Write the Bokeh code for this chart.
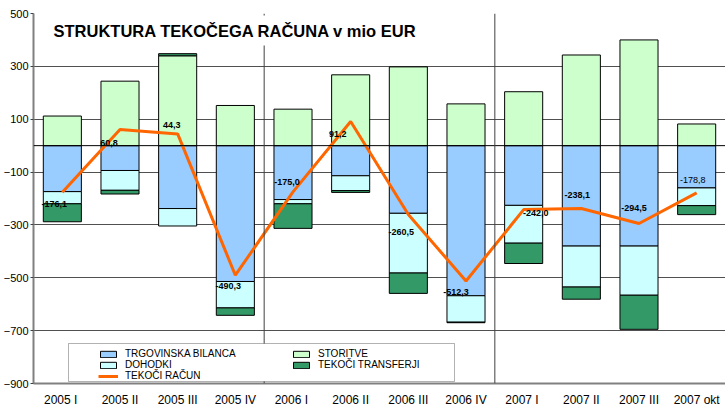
from bokeh.plotting import figure
from bokeh.models import (ColumnDataSource, Range1d, FixedTicker, Span, Legend,
                          LegendItem, Label, BoxAnnotation)
from bokeh.core.properties import value
from bokeh.embed import file_html
from bokeh.resources import INLINE

# ---------------- data ----------------
categories = ["2005  I", "2005 II", "2005 III", "2005 IV",
              "2006  I", "2006 II", "2006 III", "2006 IV",
              "2007  I", "2007 II", "2007 III", "2007 okt"]
trgovinska = [-174, -94, -238, -514, -204, -114, -256, -568, -226, -380, -380, -160]
storitve = [112, 244, 340, 152, 138, 268, 298, 158, 204, 343, 400, 82]
dohodki = [-46, -75, -66, -100, -16, -56, -226, -100, -143, -155, -186, -67]
transferji = [-68, -14, 8, -28, -93, -7, -77, -2, -77, -46, -129, -34]
tekoci = [-176.1, 60.8, 44.3, -490.3, -175.0, 91.2, -260.5, -512.3, -242.0, -238.1, -294.5, -178.8]
y_ticks = [-900, -700, -500, -300, -100, 100, 300, 500]

# ---------------- styles ----------------
FONT = "Liberation Sans"
label_dx = [-8, -11, -6, -7, -6, -13, -7, -10, 12, -4, -5, -4]
label_dy = [12, 13, -9, 11, -10, 12, 18, 11, 3, -14, -15, -13]
label_style = ["bold"] * 11 + ["normal"]

n = len(categories)
xs = list(range(n))

p = figure(width=725, height=409, x_range=Range1d(-0.5, n - 0.5),
           y_range=Range1d(y_ticks[0], y_ticks[-1]),
           output_backend="svg", toolbar_location=None,
           min_border_left=0, min_border_right=0, min_border_top=13, min_border_bottom=0)
p.outline_line_color = None
p.background_fill_color = "white"
p.border_fill_color = "white"

# axes
p.yaxis.ticker = FixedTicker(ticks=y_ticks)
p.yaxis.major_label_text_font = FONT
p.yaxis.major_label_text_font_size = "11px"
p.yaxis.major_label_text_color = "black"
p.yaxis.axis_line_color = "#808080"
p.yaxis.axis_line_width = 2
p.yaxis.major_tick_out = 3
p.yaxis.major_tick_in = 0
p.yaxis.major_tick_line_color = "#404040"
p.yaxis.minor_tick_line_color = None
p.yaxis.major_label_standoff = 2

p.xaxis.ticker = FixedTicker(ticks=xs)
p.xaxis.major_label_overrides = {i: c for i, c in enumerate(categories)}
p.xaxis.major_label_text_font = FONT
p.xaxis.major_label_text_font_size = "12px"
p.xaxis.major_label_text_color = "black"
p.xaxis.axis_line_color = "#808080"
p.xaxis.axis_line_width = 2
p.xaxis.major_tick_line_color = None
p.xaxis.minor_tick_line_color = None
p.xaxis.major_label_standoff = 3

p.xgrid.grid_line_color = None
p.ygrid.ticker = FixedTicker(ticks=y_ticks)
p.ygrid.grid_line_color = "#505050"
p.ygrid.grid_line_width = 1

# stacked bars (positives up, negatives down)
series = [("TRGOVINSKA BILANCA", trgovinska, "#99CCFF"),
          ("STORITVE", storitve, "#CCFFCC"),
          ("DOHODKI", dohodki, "#CCFFFF"),
          ("TEKOČI TRANSFERJI", transferji, "#339966")]
pos = [0.0] * n
neg = [0.0] * n
rend = {}
for name, vals, color in series:
    bottoms, tops = [], []
    for i, v in enumerate(vals):
        if v >= 0:
            b = pos[i]; t = b + v; pos[i] = t
        else:
            b = neg[i]; t = b + v; neg[i] = t
        bottoms.append(b); tops.append(t)
    src = ColumnDataSource(dict(x=xs, bottom=bottoms, top=tops))
    rend[name] = p.vbar(x="x", bottom="bottom", top="top", width=0.66, source=src,
                        fill_color=color, line_color="black", line_width=1)

# zero line & year separators
p.add_layout(Span(location=0, dimension="width", line_color="black", line_width=1))
years = [c.split()[0] for c in categories]
for i in range(1, n):
    if years[i] != years[i - 1]:
        p.add_layout(Span(location=i - 0.5, dimension="height",
                          line_color="#404040", line_width=1))

# current account line
line_src = ColumnDataSource(dict(x=xs, y=tekoci))
line_r = p.line(x="x", y="y", source=line_src, line_color="#FF6600", line_width=3)

# data labels
lab_src = ColumnDataSource(dict(
    x=xs, y=tekoci,
    text=[f"{v:.1f}".replace(".", ",") for v in tekoci],
    dx=label_dx, dy=label_dy, st=label_style))
p.text(x="x", y="y", text="text", x_offset="dx", y_offset="dy", source=lab_src,
       text_font=value(FONT), text_font_size="9px", text_font_style="st",
       text_align="center", text_baseline="middle", text_color="black")

# title
p.add_layout(Label(x=14, y=353, x_units="screen", y_units="screen",
                   text="STRUKTURA TEKOČEGA RAČUNA v mio EUR",
                   text_font=FONT, text_font_size="16.5px", text_font_style="bold",
                   text_color="black", text_baseline="middle",
                   background_fill_color="white", padding=6))

# legend frame and two legend columns
p.add_layout(BoxAnnotation(left=35, right=421, bottom=2, top=40,
                           left_units="screen", right_units="screen",
                           bottom_units="screen", top_units="screen",
                           fill_color="white", fill_alpha=1,
                           line_color="black", line_width=1))

common = dict(orientation="vertical", border_line_color=None, background_fill_alpha=0,
              padding=0, margin=0, spacing=0, glyph_width=20, glyph_height=8,
              label_height=11, label_standoff=7, label_text_font=FONT,
              label_text_font_size="10px", label_text_color="black")
legA = Legend(items=[LegendItem(label="TRGOVINSKA BILANCA", renderers=[rend["TRGOVINSKA BILANCA"]]),
                     LegendItem(label="DOHODKI", renderers=[rend["DOHODKI"]]),
                     LegendItem(label="TEKOČI RAČUN", renderers=[line_r])],
              location=(65, 2), **common)
legB = Legend(items=[LegendItem(label="STORITVE", renderers=[rend["STORITVE"]]),
                     LegendItem(label="TEKOČI TRANSFERJI", renderers=[rend["TEKOČI TRANSFERJI"]])],
              location=(258, 13), **common)
p.add_layout(legA)
p.add_layout(legB)

open("out.html", "w").write(file_html(p, INLINE))
